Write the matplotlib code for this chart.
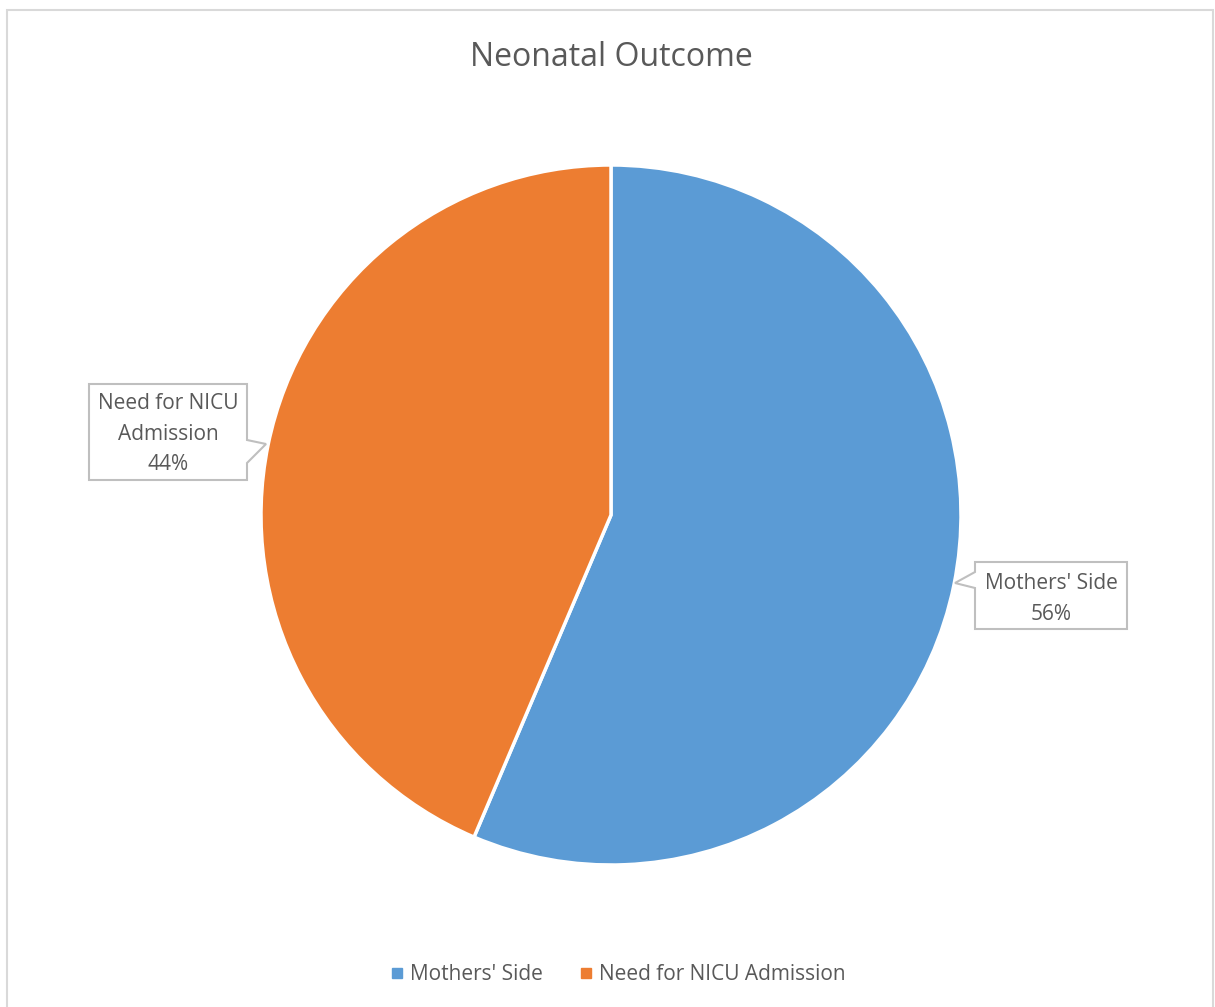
import matplotlib.pyplot as plt
from matplotlib.patches import Polygon, Rectangle
from matplotlib.lines import Line2D

labels = ["Mothers' Side", "Need for NICU Admission"]
values = [56.4, 43.6]
callout_names = ["Mothers' Side", "Need for NICU\nAdmission"]
colors = ['#5B9BD5', '#ED7D31']

W, H = 1215, 1007
fig = plt.figure(figsize=(W / 100, H / 100), dpi=100)
plt.rcParams['font.family'] = ['Open Sans', 'DejaVu Sans']

# chart border
fig.patches.append(Rectangle((7 / W, -0.01), (1213 - 7) / W, 1.01 - 10 / H,
                             transform=fig.transFigure, fill=False,
                             edgecolor='#D9D9D9', linewidth=1.5))

cx, cy, r = 611, 515, 350
ax = fig.add_axes([(cx - r) / W, (H - cy - r) / H, 2 * r / W, 2 * r / H])
ax.axis('off')
ax.pie(values, colors=colors, startangle=90, counterclock=False, radius=1,
       wedgeprops=dict(edgecolor='white', linewidth=2.5))
ax.set_xlim(-1, 1)
ax.set_ylim(-1, 1)


def px(x, y):
    # image pixels -> pie data coords
    return ((x - cx) / r, (cy - y) / r)


# callout boxes (Excel-style with pointer)
boxes = [
    [(975, 562), (1127, 562), (1127, 629), (975, 629), (975, 588), (955, 583), (975, 572)],
    [(89, 384), (247, 384), (247, 440), (266, 444), (247, 463), (247, 480), (89, 480)],
]
centers = [(1051, 599), (168, 434)]
total = sum(values)
for pts, c, name, v in zip(boxes, centers, callout_names, values):
    ax.add_patch(Polygon([px(*p) for p in pts], closed=True, facecolor='white',
                         edgecolor='#BFBFBF', linewidth=1.5, clip_on=False, zorder=5))
    ax.text(*px(*c), f'{name}\n{round(v / total * 100)}%', ha='center', va='center',
            fontsize=15, color='#595959', linespacing=1.62, zorder=6, clip_on=False)

fig.text(611 / W, 1 - 58 / H, 'Neonatal Outcome', ha='center', va='center',
         fontsize=23, color='#595959')

handles = [Line2D([], [], marker='s', linestyle='', color=c, markersize=7) for c in colors]
fig.legend(handles, labels, loc='center', bbox_to_anchor=(616 / W, 1 - 975 / H),
           ncol=2, frameon=False, fontsize=15, labelcolor='#595959',
           handletextpad=0.1, columnspacing=1.6, handlelength=1.0)

fig.savefig('out.png', dpi=100)
